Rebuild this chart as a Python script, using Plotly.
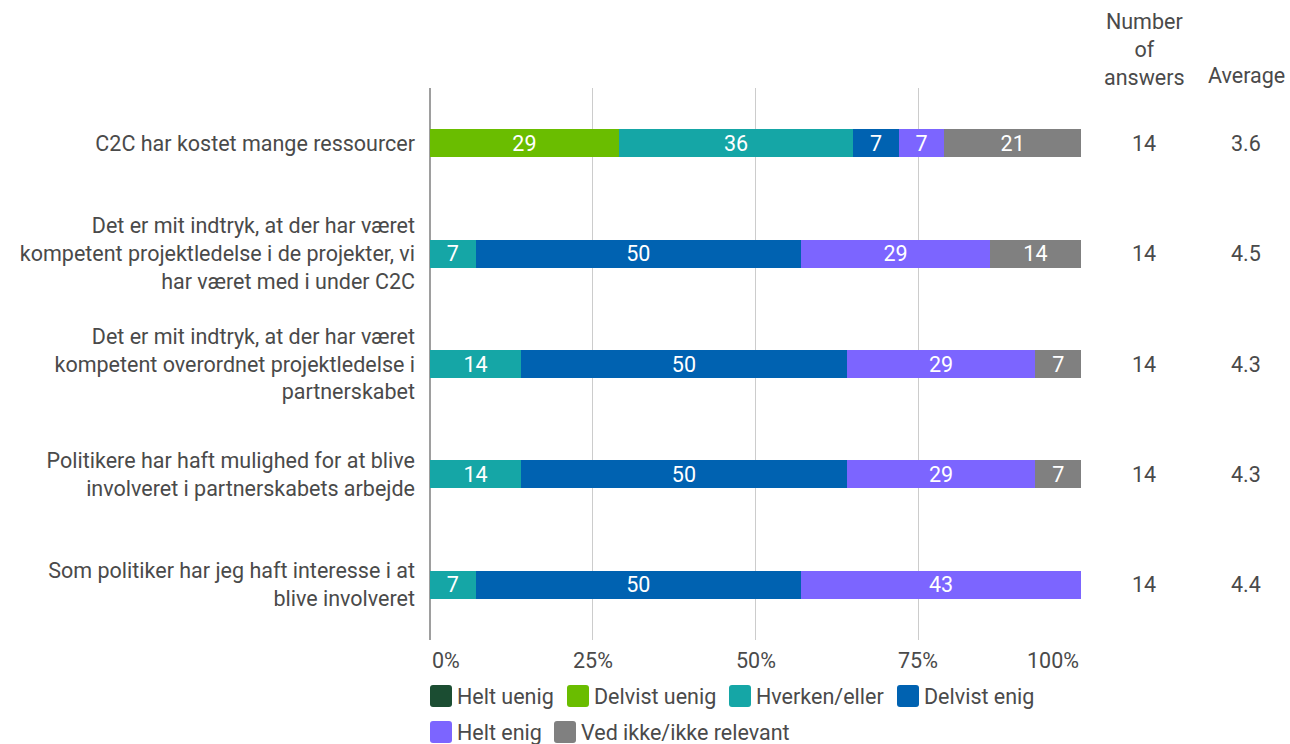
import plotly.graph_objects as go

# Survey statements (top to bottom)
statements = [
    "C2C har kostet mange ressourcer",
    "Det er mit indtryk, at der har været<br>kompetent projektledelse i de projekter, vi<br>har været med i under C2C",
    "Det er mit indtryk, at der har været<br>kompetent overordnet projektledelse i<br>partnerskabet",
    "Politikere har haft mulighed for at blive<br>involveret i partnerskabets arbejde",
    "Som politiker har jeg haft interesse i at<br>blive involveret",
]

# Share of answers per category, in percent
helt_uenig = [0, 0, 0, 0, 0]
delvist_uenig = [29, 0, 0, 0, 0]
hverken_eller = [36, 7, 14, 14, 7]
delvist_enig = [7, 50, 50, 50, 50]
helt_enig = [7, 29, 29, 29, 43]
ved_ikke = [21, 14, 7, 7, 0]

n_answers = [14, 14, 14, 14, 14]
averages = [3.6, 4.5, 4.3, 4.3, 4.4]

x_ticks = [0, 25, 50, 75, 100]
x_tick_labels = ["0%", "25%", "50%", "75%", "100%"]

series = [
    ("Helt uenig", helt_uenig, "#1b4d32"),
    ("Delvist uenig", delvist_uenig, "#6abd00"),
    ("Hverken/eller", hverken_eller, "#15a6a6"),
    ("Delvist enig", delvist_enig, "#0062b1"),
    ("Helt enig", helt_enig, "#7c65ff"),
    ("Ved ikke/ikke relevant", ved_ikke, "#808080"),
]

W, H = 1290, 744
ML, MR, MT, MB = 430, 209, 88, 104
PW = W - ML - MR
PH = H - MT - MB

FONT = "Roboto"
FS = 21.5
TXT = "#4a4a4a"

def px_x(px):
    return (px - ML) / PW

def px_y(py):
    return (H - MB - py) / PH

fig = go.Figure()
rows = list(range(len(statements)))
for name, vals, color in series:
    fig.add_trace(go.Bar(
        name=name,
        y=rows,
        x=vals,
        orientation="h",
        marker=dict(color=color, line=dict(width=0)),
        text=[str(v) if v else "" for v in vals],
        textposition="inside",
        insidetextanchor="middle",
        textangle=0,
        constraintext="none",
        textfont=dict(family=FONT, size=FS, color="white"),
        showlegend=False,
    ))

annotations = []

# x tick labels, kept inside the plot width at the ends
for v, lab in zip(x_ticks, x_tick_labels):
    anchor = "left" if v == x_ticks[0] else ("right" if v == x_ticks[-1] else "center")
    annotations.append(dict(
        x=v, xref="x", y=px_y(660), yref="paper", text=lab, showarrow=False,
        xanchor=anchor, yanchor="middle", font=dict(family=FONT, size=FS, color=TXT),
    ))

# Side columns: number of answers and average
col_n_x = px_x(1144)
col_avg_x = px_x(1246)
annotations.append(dict(
    x=col_n_x, xref="paper", y=px_y(50), yref="paper", text="Number<br>of<br>answers",
    showarrow=False, xanchor="center", yanchor="middle", align="center",
    font=dict(family=FONT, size=FS, color=TXT),
))
annotations.append(dict(
    x=col_avg_x, xref="paper", y=px_y(76), yref="paper", text="Average",
    showarrow=False, xanchor="center", yanchor="middle",
    font=dict(family=FONT, size=FS, color=TXT),
))
for r, n, a in zip(rows, n_answers, averages):
    annotations.append(dict(
        x=col_n_x, xref="paper", y=r, yref="y", text=str(n), showarrow=False,
        xanchor="center", yanchor="middle", font=dict(family=FONT, size=FS, color=TXT),
    ))
    annotations.append(dict(
        x=col_avg_x, xref="paper", y=r, yref="y", text=f"{a:.1f}", showarrow=False,
        xanchor="center", yanchor="middle", font=dict(family=FONT, size=FS, color=TXT),
    ))

# Legend drawn as rounded swatches with labels, two rows
legend_pos = [(430, 696), (567, 696), (729, 696), (897, 696), (430, 732), (554, 732)]
shapes = []
SW, RAD = 22, 3

def rounded_rect(x0, y0, x1, y1, r):
    # path in paper coordinates built from pixel corners
    def P(x, y):
        return f"{px_x(x):.5f},{px_y(y):.5f}"
    return (f"M{P(x0 + r, y0)} L{P(x1 - r, y0)} Q{P(x1, y0)} {P(x1, y0 + r)} "
            f"L{P(x1, y1 - r)} Q{P(x1, y1)} {P(x1 - r, y1)} "
            f"L{P(x0 + r, y1)} Q{P(x0, y1)} {P(x0, y1 - r)} "
            f"L{P(x0, y0 + r)} Q{P(x0, y0)} {P(x0 + r, y0)} Z")

for (name, _, color), (lx, ly) in zip(series, legend_pos):
    shapes.append(dict(
        type="path", xref="paper", yref="paper",
        path=rounded_rect(lx, ly - SW / 2, lx + SW, ly + SW / 2, RAD),
        fillcolor=color, line=dict(width=0), layer="above",
    ))
    annotations.append(dict(
        x=px_x(lx + SW + 3), xref="paper", y=px_y(ly), yref="paper", text=name,
        showarrow=False, xanchor="left", yanchor="middle",
        font=dict(family=FONT, size=FS, color=TXT),
    ))

fig.update_layout(
    width=W, height=H,
    margin=dict(l=ML, r=MR, t=MT, b=MB, pad=0),
    barmode="stack",
    bargap=0.745,
    plot_bgcolor="white",
    paper_bgcolor="white",
    font=dict(family=FONT, size=FS, color=TXT),
    showlegend=False,
    annotations=annotations,
    shapes=shapes,
    xaxis=dict(
        range=[0, 100], tickvals=x_ticks, showticklabels=False,
        showgrid=True, gridcolor="#cccccc", gridwidth=1,
        zeroline=True, zerolinecolor="#9e9e9e", zerolinewidth=2,
        showline=False, fixedrange=True,
    ),
    yaxis=dict(
        tickvals=rows, ticktext=statements, range=[len(rows) - 0.5, -0.5],
        showgrid=False, zeroline=False, showline=False, ticks="",
        ticklabelstandoff=14,
        tickfont=dict(family=FONT, size=FS, color=TXT),
    ),
)

fig.write_html("out.html")
